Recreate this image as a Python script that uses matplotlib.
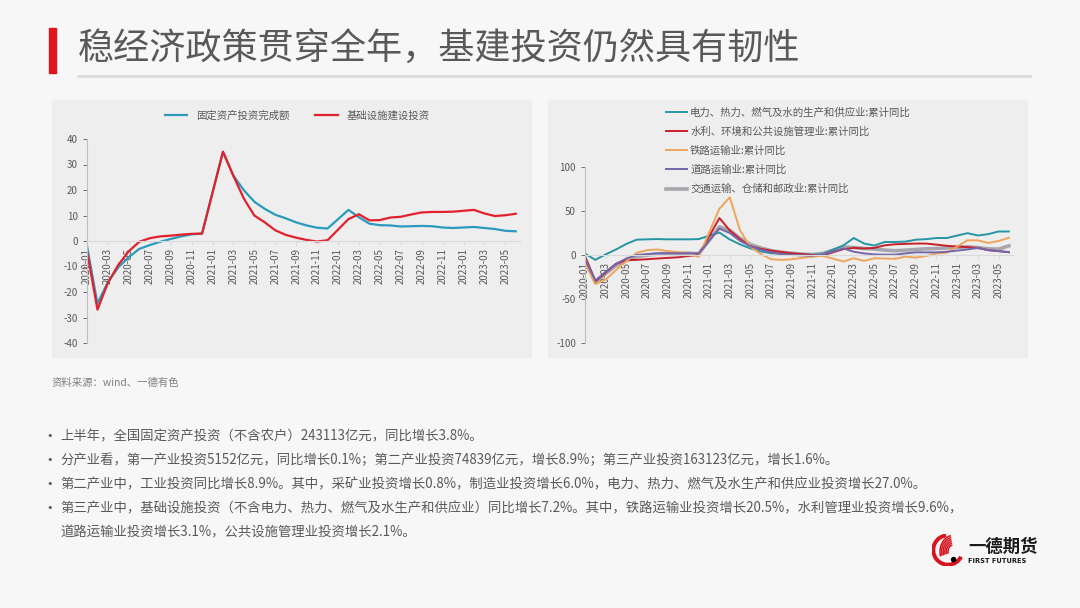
import matplotlib
matplotlib.use('Agg')
import matplotlib.pyplot as plt
import matplotlib.patches as mpatches
import numpy as np
import pandas as pd

plt.rcParams['font.family'] = ['Noto Sans CJK SC', 'DejaVu Sans']
plt.rcParams['axes.unicode_minus'] = False

# months 2020-01 .. 2023-06, January values missing (Wind reports Jan-Feb together)
months = pd.date_range('2020-01', periods=42, freq='MS').strftime('%Y-%m').tolist()

# left chart: cumulative yoy, %
fai = [-2.0, -24.5, -16.1, -10.3, -6.3, -3.1, -1.6, -0.3, 0.8, 1.8, 2.6, 2.9,
       None, 35.0, 25.6, 19.9, 15.4, 12.6, 10.3, 8.9, 7.3, 6.1, 5.2, 4.9,
       None, 12.2, 9.3, 6.8, 6.2, 6.1, 5.7, 5.8, 5.9, 5.8, 5.3, 5.1,
       None, 5.5, 5.1, 4.7, 4.0, 3.8]
infra = [-4.0, -26.9, -16.4, -9.3, -4.0, -0.3, 1.1, 1.8, 2.1, 2.5, 2.8, 2.9,
         None, 35.0, 25.5, 16.6, 10.0, 7.3, 4.2, 2.4, 1.3, 0.4, -0.2, 0.3,
         None, 8.6, 10.5, 8.1, 8.2, 9.2, 9.5, 10.4, 11.2, 11.4, 11.4, 11.5,
         None, 12.2, 10.8, 9.8, 10.1, 10.7]

# right chart: cumulative yoy by sector, %
power = [1.5, -5.5, 0.7, 6.3, 12.6, 17.4, 17.8, 18.1, 17.8, 17.8, 17.8, 18.1,
         None, 25.5, 17.7, 12.0, 7.5, 4.0, 2.0, 1.5, 1.0, 0.5, 0.3, 1.1,
         None, 11.0, 19.3, 13.0, 10.7, 14.8, 14.8, 15.2, 17.4, 18.0, 19.3, 19.3,
         None, 24.8, 22.2, 23.7, 26.7, 26.7]
water = [-2.0, -30.0, -20.0, -10.0, -6.0, -5.5, -4.8, -4.0, -3.3, -2.6, -1.1, 0.0,
         None, 42.0, 28.0, 18.0, 10.0, 7.0, 5.0, 3.5, 2.0, 1.0, 0.0, -0.5,
         None, 6.7, 8.1, 7.4, 8.1, 11.0, 12.2, 12.6, 13.0, 13.0, 11.8, 10.4,
         None, 8.9, 8.1, 5.5, 4.4, 3.3]
rail = [-9.0, -33.0, -28.0, -17.0, -7.0, 2.5, 5.5, 6.3, 4.4, 3.3, 1.9, -2.2,
        None, 52.6, 65.6, 27.8, 9.3, 1.1, -4.8, -5.6, -4.8, -3.3, -1.9, -1.0,
        None, -7.4, -3.7, -6.7, -3.7, -4.0, -4.4, -1.8, -3.0, -1.1, 1.8, 2.6,
        None, 16.7, 16.7, 13.7, 15.9, 19.6]
road = [-5.0, -29.0, -19.0, -10.0, -4.0, 0.0, 1.0, 2.0, 2.0, 2.0, 2.0, 1.8,
        None, 30.0, 25.0, 16.0, 10.0, 6.0, 3.0, 1.0, 0.0, -0.5, -0.8, 0.7,
        None, 7.4, 3.7, 1.8, 0.7, 0.4, 0.4, 1.8, 3.0, 3.0, 3.0, 3.7,
        None, 6.3, 8.1, 5.5, 4.4, 3.1]
transport = [-3.0, -31.0, -21.0, -12.0, -6.0, -2.0, 0.0, 1.0, 2.0, 2.0, 2.0, 1.4,
             None, 32.0, 28.0, 19.0, 12.0, 8.0, 5.0, 3.0, 2.0, 1.0, 0.5, 1.8,
             None, 9.3, 8.5, 7.4, 6.7, 5.5, 4.8, 5.5, 6.3, 7.0, 7.4, 8.1,
             None, 9.3, 8.5, 7.0, 6.7, 10.4]

title = '稳经济政策贯穿全年，基建投资仍然具有韧性'
source = '资料来源：wind、一德有色'
bullets = [
    '上半年，全国固定资产投资（不含农户）243113亿元，同比增长3.8%。',
    '分产业看，第一产业投资5152亿元，同比增长0.1%；第二产业投资74839亿元，增长8.9%；第三产业投资163123亿元，增长1.6%。',
    '第二产业中，工业投资同比增长8.9%。其中，采矿业投资增长0.8%，制造业投资增长6.0%，电力、热力、燃气及水生产和供应业投资增长27.0%。',
    '第三产业中，基础设施投资（不含电力、热力、燃气及水生产和供应业）同比增长7.2%。其中，铁路运输业投资增长20.5%，水利管理业投资增长9.6%，\n道路运输业投资增长3.1%，公共设施管理业投资增长2.1%。',
]

W, H = 1080, 608
BG = '#f7f7f7'
PANEL = '#eeeeee'
TXT = '#595959'


def fx(px):
    return px / W


def fy(py):
    return 1 - py / H


fig = plt.figure(figsize=(10.8, 6.08), dpi=100, facecolor=BG)

# header
fig.patches.append(mpatches.Rectangle((fx(49), fy(73)), fx(7), 45 / H, transform=fig.transFigure,
                                      color='#e0141e', zorder=3))
fig.text(fx(78), fy(50), title, fontsize=26, color=TXT, va='center', ha='left')
fig.add_artist(plt.Line2D([fx(78), fx(1030)], [fy(76), fy(76)], color='#dcdcdc', lw=2))

# chart panels (behind the axes)
for x0 in (52, 548):
    fig.patches.append(mpatches.Rectangle((fx(x0), fy(357)), fx(479), 257 / H,
                                          transform=fig.transFigure, color=PANEL, zorder=-5))


def series(ax, vals, **kw):
    s = pd.Series(vals, dtype=float).dropna()
    return ax.plot(s.index, s.values, **kw)[0]


def style_axis(ax, ymin, ymax, step):
    ax.set_facecolor('none')
    for side in ('top', 'right'):
        ax.spines[side].set_visible(False)
    ax.spines['bottom'].set_position(('data', 0))
    ax.spines['bottom'].set_color('#d9d9d9')
    ax.spines['left'].set_color('#bfbfbf')
    ax.set_ylim(ymin, ymax)
    ax.set_yticks(np.arange(ymin, ymax + 1, step))
    ax.set_xlim(0, 41.4)
    ax.set_xticks(range(0, 42, 2))
    ax.set_xticklabels(months[::2])
    ax.tick_params(axis='both', labelsize=7, colors=TXT, length=3, width=0.6)
    ax.tick_params(axis='x', color='#d9d9d9', pad=2, labelrotation=90)


# left chart
ax1 = fig.add_axes([fx(87), fy(343), fx(433), 204 / H])
l1 = series(ax1, fai, color='#2a9bbd', lw=1.6, label='固定资产投资完成额')
l2 = series(ax1, infra, color='#e3202b', lw=1.6, label='基础设施建设投资')
style_axis(ax1, -40, 40, 10)
fig.legend(handles=[l1, l2], loc='center', bbox_to_anchor=(fx(297), fy(116)), ncol=2,
           frameon=False, fontsize=7.5, handlelength=2.2, columnspacing=2.5, labelcolor=TXT)

# right chart
ax2 = fig.add_axes([fx(585), fy(343), fx(428), 176 / H])
r5 = series(ax2, transport, color='#a6a6ae', lw=2.6, label='交通运输、仓储和邮政业:累计同比')
r1 = series(ax2, power, color='#2596a3', lw=1.4, label='电力、热力、燃气及水的生产和供应业:累计同比')
r2 = series(ax2, water, color='#c8202a', lw=1.4, label='水利、环境和公共设施管理业:累计同比')
r3 = series(ax2, rail, color='#f0a45c', lw=1.4, label='铁路运输业:累计同比')
r4 = series(ax2, road, color='#7566aa', lw=1.4, label='道路运输业:累计同比')
style_axis(ax2, -100, 100, 50)
fig.legend(handles=[r1, r2, r3, r4, r5], loc='upper left', bbox_to_anchor=(fx(662), fy(103)),
           frameon=False, fontsize=7.5, handlelength=2.0, labelspacing=0.85, labelcolor=TXT,
           borderaxespad=0, handletextpad=0.3)

# source + bullets
fig.text(fx(52), fy(383), source, fontsize=7.5, color='#7f7f7f', va='center')
y = 436
for b in bullets:
    fig.text(fx(46), fy(y), '•', fontsize=8, color=TXT, va='center', family=['DejaVu Sans'])
    lines = b.split('\n')
    for i, ln in enumerate(lines):
        fig.text(fx(60), fy(y + i * 24), ln, fontsize=9.6, color=TXT, va='center')
    y += 24 * len(lines)

# logo
lax = fig.add_axes([fx(932), fy(566), fx(32), 32 / H])
lax.set_xlim(-1, 1)
lax.set_ylim(-1, 1)
lax.set_aspect('equal')
lax.axis('off')
lax.add_patch(mpatches.Wedge((0, 0), 1.0, 100, 330, width=0.16, color='#d7141e'))
for k in range(6):
    r = 0.35 + k * 0.1
    lax.add_patch(mpatches.Arc((0.35, -0.1), 2 * r, 2 * r * 1.2, theta1=100, theta2=200,
                               color='#d7141e', lw=1.1))
lax.add_patch(mpatches.Circle((0.35, -0.6), 0.13, color='black'))
fig.text(fx(968), fy(547), '一德期货', fontsize=12.5, fontweight='bold', color='#1a1a1a', va='center')
fig.text(fx(968), fy(561), 'FIRST FUTURES', fontsize=4.8, fontweight='bold', color='#1a1a1a',
         va='center', family=['DejaVu Sans'])

fig.savefig('out.png', dpi=100, facecolor=BG)
